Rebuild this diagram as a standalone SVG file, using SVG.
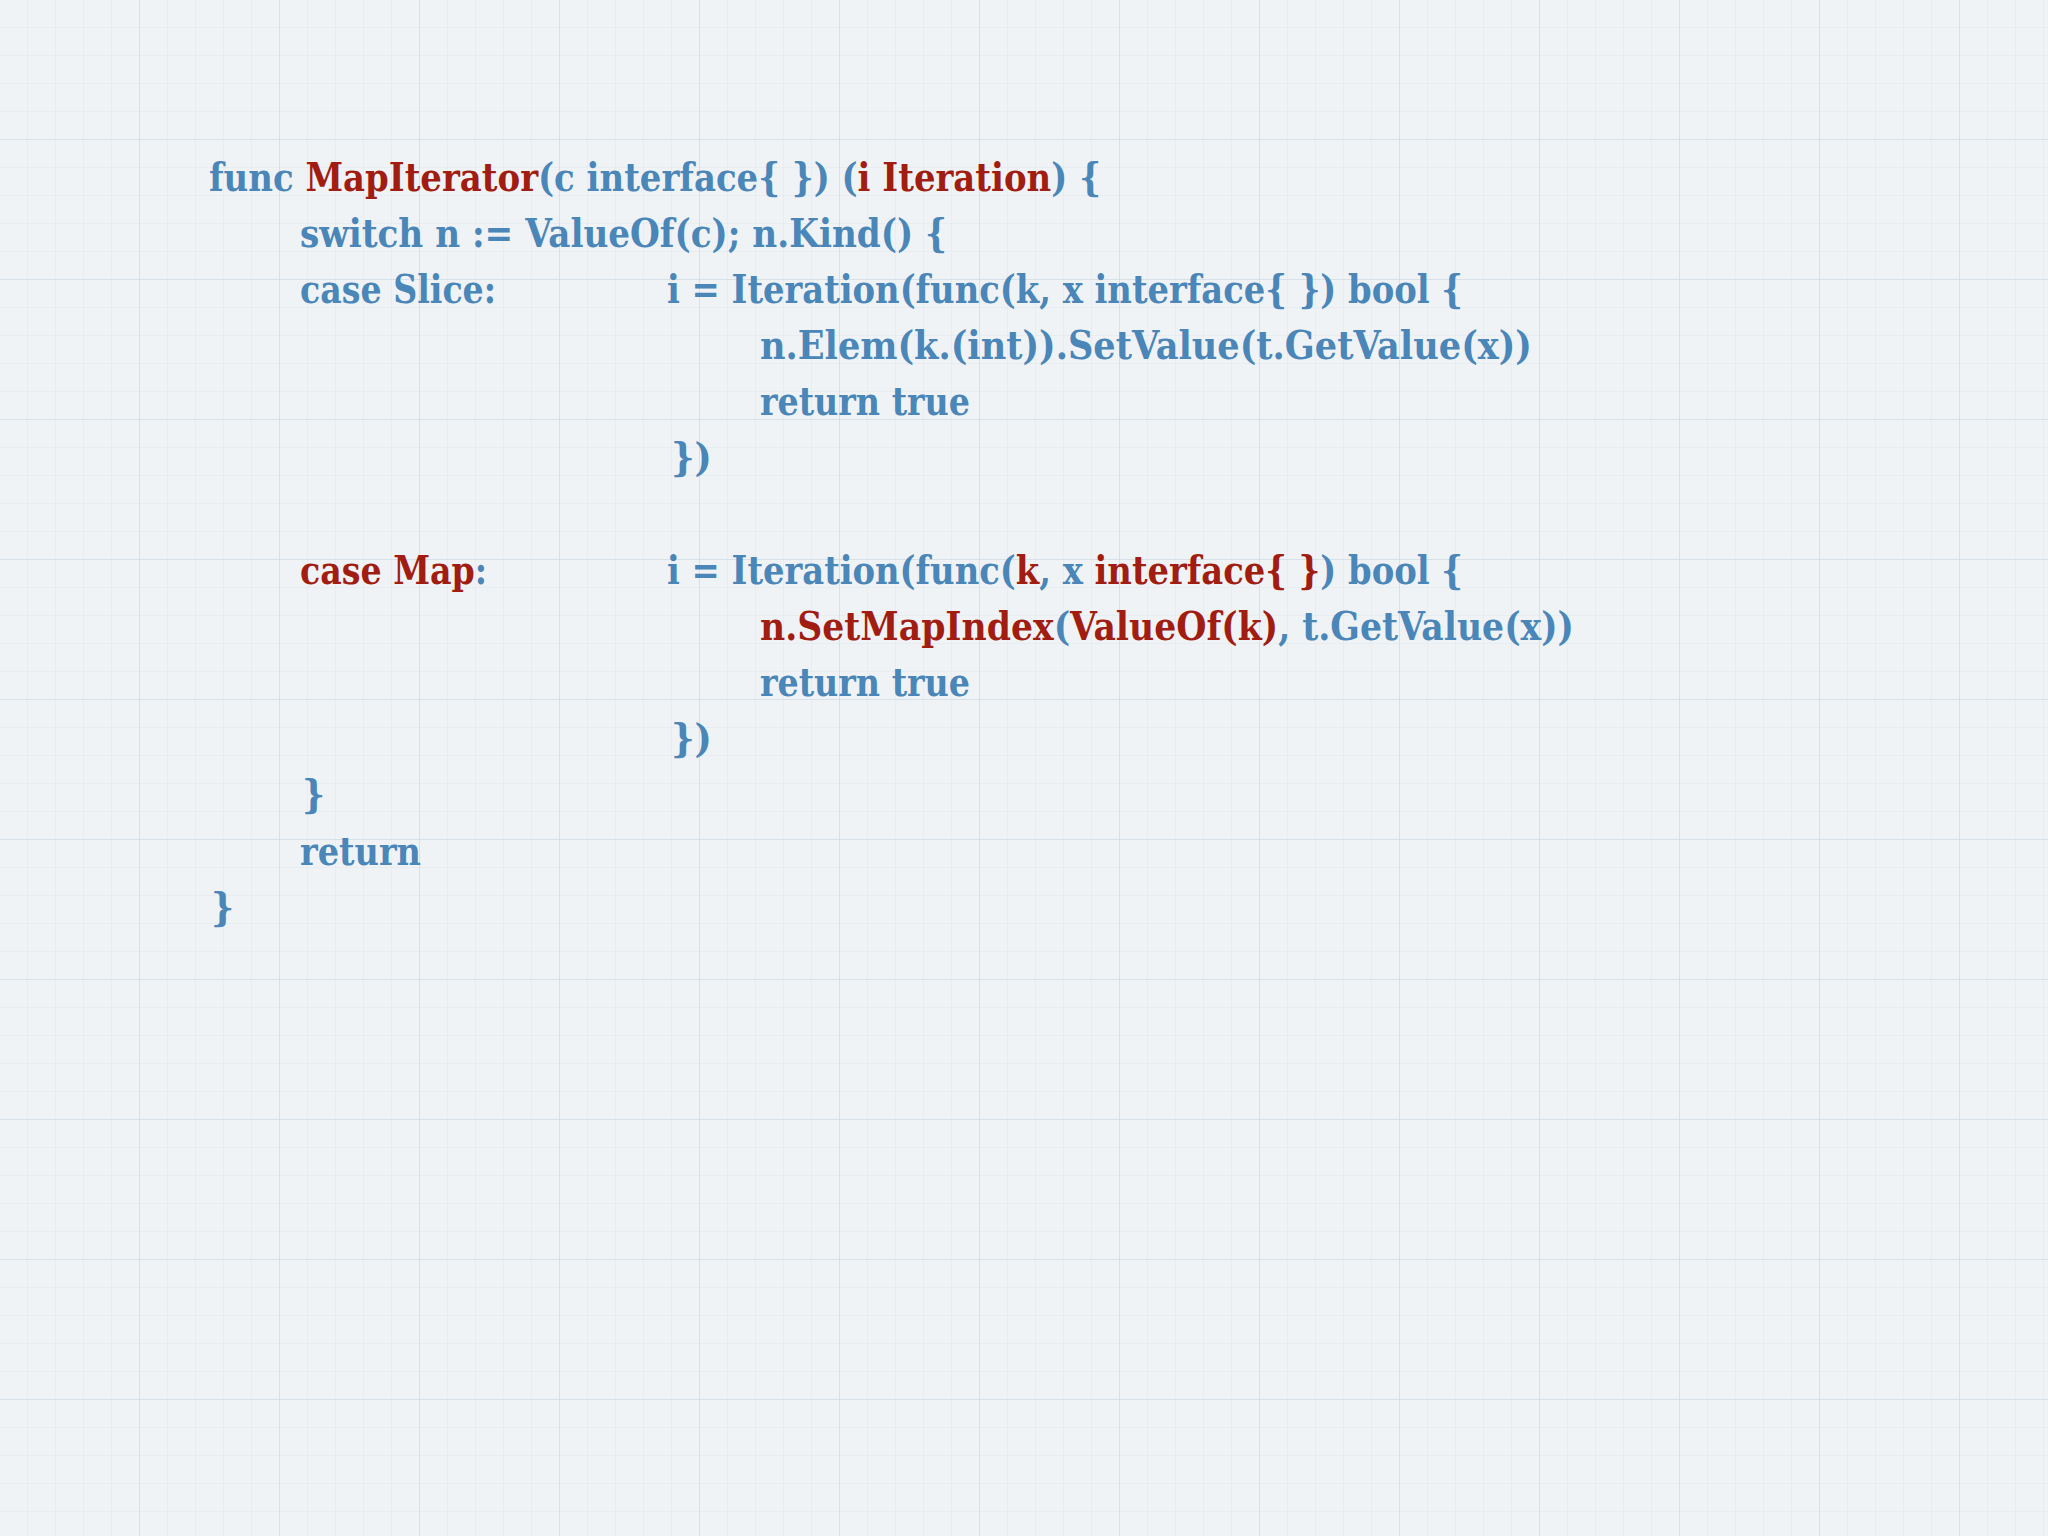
<svg xmlns="http://www.w3.org/2000/svg" width="2048" height="1536" viewBox="0 0 2048 1536">
<defs>
<pattern id="minor" width="28" height="28" patternUnits="userSpaceOnUse"><path d="M28 0V28M0 28H28" fill="none" stroke="#dfe7ec" stroke-width="1"/></pattern>
<pattern id="major" width="140" height="140" patternUnits="userSpaceOnUse"><path d="M140 0V140M0 140H140" fill="none" stroke="#d3dde3" stroke-width="1.5"/></pattern>
</defs>
<style>
text{font-family:"DejaVu Serif Condensed","DejaVu Serif","Liberation Serif",serif;font-weight:bold;font-size:40px;fill:#4a86b8}
.r{fill:#a11d12}
</style>
<rect width="2048" height="1536" fill="#f0f3f5"/>
<rect width="2048" height="1536" fill="url(#minor)"/>
<rect width="2048" height="1536" fill="url(#major)"/>
<text x="209" y="191" textLength="892" lengthAdjust="spacingAndGlyphs">func <tspan class="r">MapIterator</tspan>(c interface{ }) (<tspan class="r">i Iteration</tspan>) {</text>
<text x="300" y="247" textLength="647" lengthAdjust="spacingAndGlyphs">switch n := ValueOf(c); n.Kind() {</text>
<text x="300" y="303" textLength="196" lengthAdjust="spacingAndGlyphs">case Slice:</text>
<text x="667" y="303" textLength="796" lengthAdjust="spacingAndGlyphs">i = Iteration(func(k, x interface{ }) bool {</text>
<text x="760" y="359" textLength="772" lengthAdjust="spacingAndGlyphs">n.Elem(k.(int)).SetValue(t.GetValue(x))</text>
<text x="760" y="415" textLength="210" lengthAdjust="spacingAndGlyphs">return true</text>
<text x="671" y="471" textLength="41" lengthAdjust="spacingAndGlyphs">})</text>
<text x="300" y="584" textLength="187" lengthAdjust="spacingAndGlyphs" class="r">case Map<tspan style="fill:#4a86b8">:</tspan></text>
<text x="667" y="584" textLength="796" lengthAdjust="spacingAndGlyphs">i = Iteration(func(<tspan class="r">k</tspan>, x <tspan class="r">interface{ }</tspan>) bool {</text>
<text x="760" y="640" textLength="814" lengthAdjust="spacingAndGlyphs"><tspan class="r">n.SetMapIndex</tspan>(<tspan class="r">ValueOf(k)</tspan>, t.GetValue(x))</text>
<text x="760" y="696" textLength="210" lengthAdjust="spacingAndGlyphs">return true</text>
<text x="671" y="752" textLength="41" lengthAdjust="spacingAndGlyphs">})</text>
<text x="302" y="808">}</text>
<text x="300" y="865" textLength="121" lengthAdjust="spacingAndGlyphs">return</text>
<text x="211" y="921">}</text>
</svg>
